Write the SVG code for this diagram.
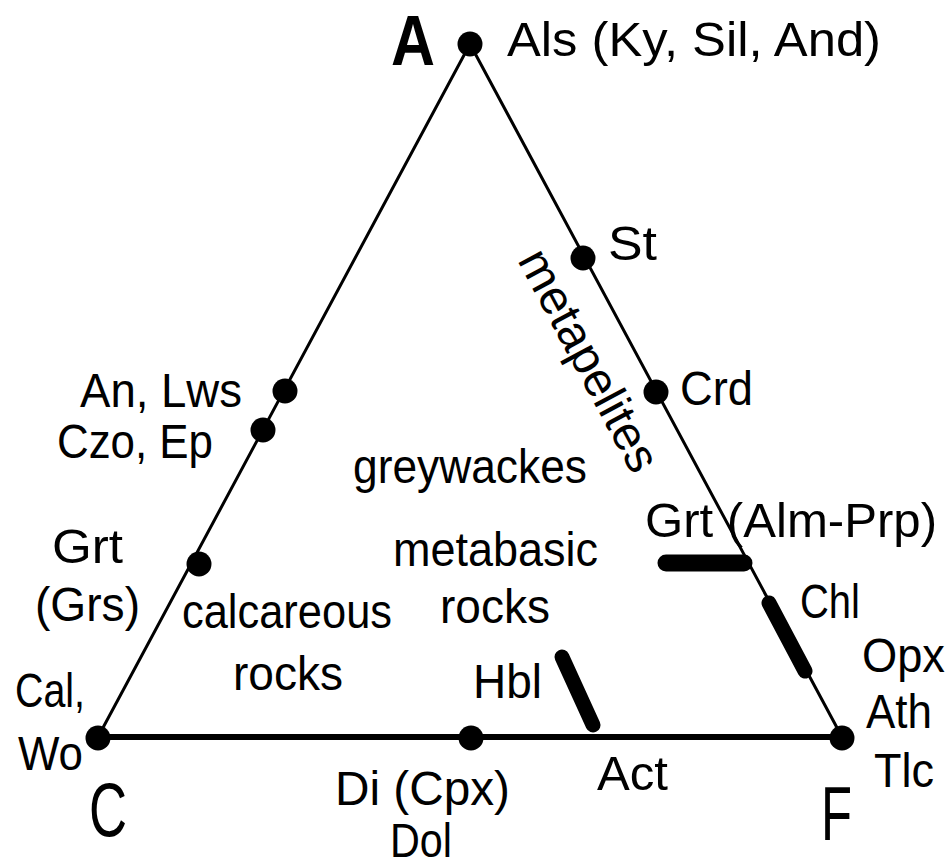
<svg xmlns="http://www.w3.org/2000/svg" width="949" height="868" viewBox="0 0 949 868">
<style>
  text { font-family: "Liberation Sans", Arial, sans-serif; font-size: 48px; fill: #000; }
  text.big { font-size: 76px; }
  text.apex { font-size: 70px; font-weight: bold; }
  .edge { stroke: #000; stroke-width: 3; fill: none; stroke-linecap: round; }
  .base { stroke: #000; stroke-width: 6; fill: none; }
  .bar { stroke: #000; stroke-width: 15; stroke-linecap: round; fill: none; }
  .dot { fill: #000; }
</style>
<rect width="949" height="868" fill="#fff"/>

<g id="connectors">
  <line class="edge" x1="470" y1="44" x2="98" y2="737"/>
  <line class="edge" x1="470" y1="44" x2="842" y2="737"/>
  <line class="base" x1="98" y1="737" x2="842" y2="737"/>
</g>

<g id="solid-solutions">
  <line class="bar" x1="666" y1="563" x2="744" y2="563" style="stroke-width:17"/>
  <line class="bar" x1="769" y1="603" x2="805" y2="671"/>
  <line class="bar" x1="562" y1="657" x2="593" y2="725"/>
</g>

<g id="node-A">
  <circle class="dot" cx="470" cy="44" r="12.5"/>
  <text class="apex" x="391" y="65" textLength="44" lengthAdjust="spacingAndGlyphs">A</text>
  <text x="507" y="56" textLength="374" lengthAdjust="spacingAndGlyphs">Als (Ky, Sil, And)</text>
</g>

<g id="node-St">
  <circle class="dot" cx="583" cy="258" r="12.5"/>
  <text x="608" y="260" textLength="49" lengthAdjust="spacingAndGlyphs">St</text>
</g>

<g id="node-Crd">
  <circle class="dot" cx="656" cy="392" r="12.5"/>
  <text x="680" y="405" textLength="73" lengthAdjust="spacingAndGlyphs">Crd</text>
</g>

<g id="node-An-Lws">
  <circle class="dot" cx="285" cy="391" r="12.5"/>
  <text x="80" y="407" textLength="162" lengthAdjust="spacingAndGlyphs">An, Lws</text>
</g>

<g id="node-Czo-Ep">
  <circle class="dot" cx="263" cy="430" r="12.5"/>
  <text x="57" y="458" textLength="156" lengthAdjust="spacingAndGlyphs">Czo, Ep</text>
</g>

<g id="node-Grt-Grs">
  <circle class="dot" cx="199" cy="564" r="12.5"/>
  <text x="52" y="563" textLength="71" lengthAdjust="spacingAndGlyphs">Grt</text>
  <text x="35" y="621" textLength="105" lengthAdjust="spacingAndGlyphs">(Grs)</text>
</g>

<g id="node-C">
  <circle class="dot" cx="98" cy="738" r="12.5"/>
  <text x="15" y="707" textLength="70" lengthAdjust="spacingAndGlyphs">Cal,</text>
  <text x="18" y="770" textLength="65" lengthAdjust="spacingAndGlyphs">Wo</text>
  <text class="big" x="89" y="836" textLength="38" lengthAdjust="spacingAndGlyphs">C</text>
</g>

<g id="node-Di">
  <circle class="dot" cx="471" cy="738" r="12.5"/>
  <text x="335" y="805" textLength="175" lengthAdjust="spacingAndGlyphs">Di (Cpx)</text>
  <text x="390" y="857" textLength="62" lengthAdjust="spacingAndGlyphs">Dol</text>
</g>

<g id="node-F">
  <circle class="dot" cx="842" cy="738" r="12.5"/>
  <text x="862" y="672" textLength="83" lengthAdjust="spacingAndGlyphs">Opx</text>
  <text x="866" y="728" textLength="66" lengthAdjust="spacingAndGlyphs">Ath</text>
  <text x="874" y="787" textLength="60" lengthAdjust="spacingAndGlyphs">Tlc</text>
  <text class="big" x="821" y="840" textLength="31" lengthAdjust="spacingAndGlyphs">F</text>
</g>

<g id="label-Grt-Alm-Prp">
  <text x="645" y="537" textLength="292" lengthAdjust="spacingAndGlyphs">Grt (Alm-Prp)</text>
</g>
<g id="label-Chl">
  <text x="800" y="618" textLength="60" lengthAdjust="spacingAndGlyphs">Chl</text>
</g>
<g id="label-Hbl">
  <text x="473" y="698" textLength="69" lengthAdjust="spacingAndGlyphs">Hbl</text>
</g>
<g id="label-Act">
  <text x="597" y="790" textLength="71" lengthAdjust="spacingAndGlyphs">Act</text>
</g>

<g id="field-labels">
  <text x="353" y="483" textLength="234" lengthAdjust="spacingAndGlyphs">greywackes</text>
  <text x="393" y="566" textLength="205" lengthAdjust="spacingAndGlyphs">metabasic</text>
  <text x="440" y="623" textLength="110" lengthAdjust="spacingAndGlyphs">rocks</text>
  <text x="182" y="628" textLength="210" lengthAdjust="spacingAndGlyphs">calcareous</text>
  <text x="233" y="690" textLength="110" lengthAdjust="spacingAndGlyphs">rocks</text>
  <text transform="translate(575,368) rotate(61.8)" text-anchor="middle" textLength="245" lengthAdjust="spacingAndGlyphs">metapelites</text>
</g>
</svg>
